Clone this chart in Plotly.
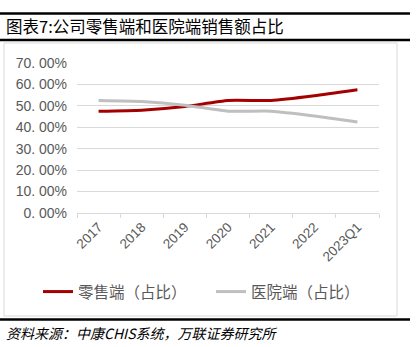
import plotly.graph_objects as go

categories = ["2017", "2018", "2019", "2020", "2021", "2022", "2023Q1"]
retail_share = [0.475, 0.48, 0.497, 0.525, 0.525, 0.547, 0.575]
hospital_share = [0.525, 0.52, 0.503, 0.475, 0.475, 0.453, 0.425]
y_tickvals = [0, 0.1, 0.2, 0.3, 0.4, 0.5, 0.6, 0.7]
y_ticktext = ["0. 00%", "10. 00%", "20. 00%", "30. 00%", "40. 00%", "50. 00%", "60. 00%", "70. 00%"]
series_names = ["零售端（占比）", "医院端（占比）"]
title_text = "图表7:公司零售端和医院端销售额占比"
source_text = "资料来源：中康CHIS系统，万联证券研究所"

W, H = 416, 347
L, R, T, B = 77, 37, 63, 134
PW, PH = W - L - R, H - T - B


def xp(px):
    return (px - L) / PW


def yp(py):
    return (H - B - py) / PH


FONT = "Liberation Sans, Noto Sans CJK SC, sans-serif"
CJK = "Noto Sans CJK SC, sans-serif"

fig = go.Figure()
fig.add_trace(go.Scatter(x=categories, y=retail_share, name=series_names[0], mode="lines",
                         line=dict(color="#A50000", width=3, shape="spline", smoothing=0.5)))
fig.add_trace(go.Scatter(x=categories, y=hospital_share, name=series_names[1], mode="lines",
                         line=dict(color="#BFBFBF", width=3, shape="spline", smoothing=0.5)))

shapes = [
    dict(type="rect", xref="paper", yref="paper", x0=xp(4), x1=xp(397), y0=yp(43), y1=yp(316),
         line=dict(color="#D9D9D9", width=1), layer="below"),
]
for py in (13.5, 40, 319.5):
    shapes.append(dict(type="line", xref="paper", yref="paper", x0=xp(0), x1=xp(410),
                       y0=yp(py), y1=yp(py), line=dict(color="#000000", width=2.5)))

fig.update_layout(
    width=W, height=H,
    margin=dict(l=L, r=R, t=T, b=B),
    paper_bgcolor="white", plot_bgcolor="white",
    shapes=shapes,
    showlegend=True,
    legend=dict(orientation="h", x=xp(38), y=yp(292), xanchor="left", yanchor="middle",
                font=dict(family=CJK, size=15.5, color="#595959"), itemwidth=30,
                entrywidth=128, bgcolor="rgba(0,0,0,0)"),
    xaxis=dict(type="category", showgrid=False, showline=True, linecolor="#D9D9D9", linewidth=1,
               ticks="outside", tickson="boundaries", ticklen=4, tickcolor="#D9D9D9",
               tickangle=-45, tickfont=dict(family=FONT, size=13.5, color="#595959"),
               range=[-0.5, 6.5]),
    yaxis=dict(range=[0, 0.7], tickvals=y_tickvals, ticktext=y_ticktext, showgrid=True,
               gridcolor="#D9D9D9", gridwidth=1, zeroline=False, showline=False,
               tickfont=dict(family=FONT, size=14, color="#595959"), ticklabelstandoff=9),
    annotations=[
        dict(text=title_text, xref="paper", yref="paper", x=xp(4), y=yp(26), xanchor="left",
             yanchor="middle", showarrow=False, font=dict(family=CJK, size=16.5, color="#000000")),
        dict(text="<i>" + source_text + "</i>", xref="paper", yref="paper", x=xp(4), y=yp(333),
             xanchor="left", yanchor="middle", showarrow=False,
             font=dict(family=CJK, size=14, color="#000000")),
    ],
)

fig.write_html("out.html")
